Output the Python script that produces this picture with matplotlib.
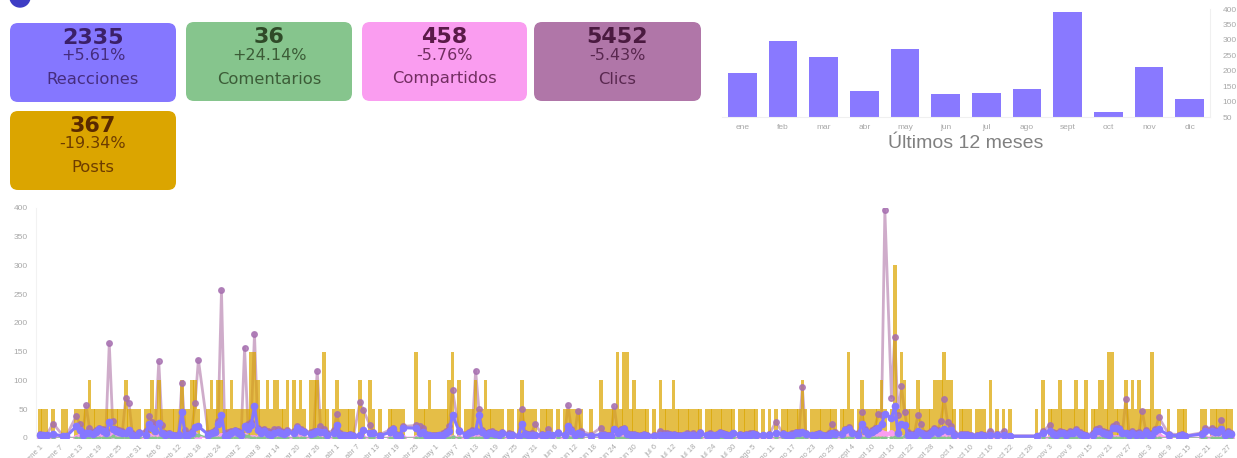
import numpy as np
import matplotlib
matplotlib.use('Agg')
import matplotlib.pyplot as plt
from matplotlib.patches import FancyBboxPatch, Circle

W, H = 1237, 458

# tarjetas
card_values = ['2335', '36', '458', '5452', '367']
card_changes = ['+5.61%', '+24.14%', '-5.76%', '-5.43%', '-19.34%']
card_labels = ['Reacciones', 'Comentarios', 'Compartidos', 'Clics', 'Posts']
card_colors = ['#8577ff', '#86c58d', '#fa9df0', '#b076a8', '#dba500']
card_text = ['#3b2068', '#2f4a28', '#5a1a48', '#4a1a40', '#5a2a00']
card_boxes = [(10, 23, 166, 79), (186, 22, 166, 79), (362, 22, 165, 79), (534, 22, 167, 79), (10, 111, 166, 79)]

# ultimos 12 meses
months = ['ene', 'feb', 'mar', 'abr', 'may', 'jun', 'jul', 'ago', 'sept', 'oct', 'nov', 'dic']
month_values = [193, 296, 245, 135, 272, 125, 130, 141, 390, 66, 211, 108]

# posts por dia (cada post = 50 en el eje)
posts = [
    1, 1, 1, 0, 1, 0, 0, 1, 1, 0, 0, 1, 1, 1, 1, 2, 1, 1, 1, 1,
    1, 1, 1, 1, 1, 1, 2, 1, 1, 1, 1, 0, 1, 1, 2, 1, 2, 1, 1, 1,
    1, 1, 1, 2, 1, 1, 2, 2, 1, 0, 0, 1, 2, 1, 2, 2, 1, 1, 2, 1,
    1, 1, 1, 1, 3, 3, 2, 1, 1, 2, 1, 2, 2, 1, 1, 2, 0, 2, 1, 2,
    1, 0, 2, 2, 2, 1, 3, 1, 0, 1, 2, 1, 1, 1, 1, 1, 0, 2, 1, 0,
    2, 1, 0, 1, 0, 0, 1, 1, 1, 1, 1, 0, 0, 0, 3, 1, 1, 1, 2, 1,
    1, 1, 1, 1, 2, 3, 0, 2, 0, 1, 1, 1, 2, 1, 1, 2, 1, 1, 1, 1,
    1, 0, 1, 1, 0, 1, 2, 1, 1, 1, 1, 0, 1, 1, 1, 1, 0, 1, 0, 1,
    1, 1, 1, 1, 1, 0, 0, 1, 0, 0, 2, 1, 1, 1, 1, 3, 1, 3, 3, 1,
    2, 1, 1, 1, 1, 0, 1, 0, 2, 1, 1, 1, 2, 1, 1, 1, 1, 1, 1, 1,
    1, 0, 1, 1, 1, 1, 1, 1, 1, 1, 1, 0, 1, 1, 1, 1, 1, 1, 0, 1,
    0, 1, 0, 1, 0, 1, 1, 1, 1, 1, 1, 2, 1, 0, 1, 1, 1, 1, 1, 1,
    1, 1, 0, 1, 1, 3, 1, 0, 1, 2, 1, 1, 1, 1, 1, 2, 1, 0, 1, 6,
    1, 3, 2, 1, 1, 1, 2, 1, 1, 1, 1, 2, 2, 2, 3, 2, 2, 1, 0, 1,
    1, 1, 1, 0, 1, 1, 1, 0, 2, 0, 1, 0, 1, 0, 1, 0, 0, 0, 0, 0,
    0, 0, 1, 0, 2, 0, 1, 1, 1, 2, 1, 1, 1, 1, 2, 1, 1, 2, 0, 1,
    1, 2, 2, 1, 3, 3, 1, 1, 1, 2, 1, 2, 1, 2, 1, 1, 1, 3, 1, 1,
    0, 0, 1, 0, 0, 1, 1, 1, 0, 0, 0, 0, 1, 1, 0, 1, 1, 1, 1, 1,
    1, 1, 0, 0, 0,
]

reacciones = [
    6, 5, 5, 6, 7, 5, 4, 3, 3, 6, 8, 20, 14, 6, 8, 9, 7, 11, 15, 13,
    9, 28, 16, 12, 10, 8, 9, 14, 5, 4, 8, 12, 6, 25, 18, 13, 26, 9, 5, 7,
    5, 4, 5, 45, 6, 5, 9, 19, 20, 14, 5, 6, 8, 10, 25, 40, 4, 6, 9, 13,
    9, 6, 20, 16, 22, 55, 14, 9, 12, 7, 6, 9, 11, 8, 7, 10, 6, 9, 18, 13,
    10, 6, 7, 9, 12, 11, 10, 6, 4, 8, 22, 5, 5, 4, 5, 4, 3, 5, 14, 6,
    9, 8, 3, 4, 3, 3, 10, 15, 5, 4, 18, 5, 4, 4, 17, 8, 10, 6, 5, 4,
    4, 5, 6, 8, 12, 40, 5, 12, 6, 6, 8, 10, 12, 40, 10, 6, 8, 9, 7, 6,
    8, 4, 6, 5, 3, 4, 25, 7, 5, 6, 6, 3, 5, 4, 7, 5, 3, 8, 3, 5,
    20, 12, 5, 8, 7, 3, 3, 4, 3, 3, 6, 5, 4, 4, 15, 8, 12, 15, 7, 5,
    5, 4, 4, 5, 4, 3, 4, 3, 6, 5, 6, 5, 5, 4, 4, 5, 6, 5, 6, 4,
    8, 3, 5, 6, 5, 6, 8, 7, 6, 5, 8, 4, 6, 4, 5, 6, 7, 5, 3, 5,
    3, 5, 3, 9, 3, 7, 5, 5, 6, 9, 8, 10, 7, 4, 5, 5, 7, 5, 4, 6,
    8, 7, 3, 7, 14, 15, 9, 4, 5, 25, 12, 7, 10, 14, 18, 24, 42, 3, 35, 55,
    8, 25, 22, 6, 5, 6, 12, 8, 5, 6, 8, 14, 9, 12, 15, 13, 14, 6, 3, 5,
    5, 5, 3, 3, 4, 5, 4, 3, 6, 3, 5, 3, 5, 3, 3, 2, 2, 1, 1, 1,
    1, 1, 3, 3, 9, 3, 12, 7, 6, 8, 8, 6, 9, 8, 12, 7, 5, 3, 5, 6,
    12, 13, 9, 7, 6, 17, 18, 16, 8, 8, 6, 8, 5, 7, 6, 10, 5, 6, 12, 15,
    5, 3, 5, 3, 3, 4, 5, 3, 3, 3, 3, 3, 7, 12, 4, 13, 11, 10, 15, 6,
    9, 7, 3, 3, 3,
]

clics = [
    7, 6, 6, 8, 25, 8, 5, 4, 4, 12, 14, 38, 25, 10, 57, 17, 10, 14, 18, 16,
    14, 165, 30, 16, 14, 12, 70, 60, 8, 6, 10, 16, 12, 38, 28, 24, 133, 22, 8, 9,
    6, 5, 7, 95, 14, 7, 13, 60, 136, 20, 6, 8, 10, 14, 30, 257, 8, 10, 12, 14,
    12, 9, 157, 24, 28, 181, 18, 14, 16, 12, 10, 16, 15, 13, 10, 14, 9, 12, 20, 16,
    13, 8, 10, 12, 117, 20, 15, 8, 5, 14, 42, 8, 6, 5, 7, 5, 4, 62, 48, 8,
    22, 10, 4, 6, 4, 4, 14, 18, 7, 6, 20, 6, 5, 5, 22, 20, 18, 7, 6, 5,
    5, 6, 8, 12, 20, 83, 6, 14, 8, 7, 10, 14, 117, 50, 14, 8, 10, 12, 8, 7,
    10, 5, 8, 7, 4, 5, 50, 9, 7, 8, 25, 4, 7, 5, 15, 6, 4, 10, 4, 6,
    58, 15, 7, 47, 12, 4, 4, 6, 4, 4, 18, 7, 6, 6, 55, 12, 15, 18, 9, 7,
    7, 5, 5, 7, 5, 3, 5, 4, 12, 9, 8, 7, 7, 5, 5, 6, 8, 6, 8, 5,
    10, 4, 6, 8, 6, 7, 10, 8, 7, 6, 9, 5, 7, 5, 7, 8, 9, 7, 4, 6,
    4, 7, 4, 28, 5, 9, 6, 6, 8, 11, 10, 88, 9, 5, 6, 7, 9, 6, 5, 8,
    25, 10, 5, 9, 16, 19, 11, 5, 9, 45, 15, 9, 14, 18, 42, 40, 396, 4, 70, 176,
    40, 90, 45, 10, 7, 8, 40, 25, 8, 9, 12, 18, 14, 30, 68, 28, 20, 8, 4, 7,
    7, 7, 5, 4, 6, 7, 6, 4, 12, 4, 7, 4, 12, 4, 4, 3, 3, 2, 2, 2,
    2, 2, 4, 5, 12, 4, 23, 10, 9, 12, 11, 8, 13, 10, 16, 10, 7, 5, 7, 9,
    15, 17, 12, 10, 9, 20, 24, 18, 10, 67, 9, 12, 8, 10, 47, 14, 7, 9, 15, 36,
    6, 4, 7, 4, 4, 6, 7, 4, 4, 4, 4, 4, 9, 17, 5, 17, 14, 12, 32, 8,
    12, 9, 4, 4, 4,
]

# dias con compartidos / comentarios, el resto es 0
compartidos_dias = [4, 12, 16, 17, 18, 19, 20, 22, 23, 33, 36, 47, 55, 62, 78, 84, 132, 146, 160, 174, 240, 244, 245, 254, 255, 256, 258, 274, 329, 339]
compartidos_vals = [3, 4, 6, 7, 8, 7, 6, 8, 6, 4, 5, 5, 4, 4, 4, 5, 4, 4, 3, 3, 6, 8, 8, 8, 8, 7, 8, 6, 4, 4]
comentarios_dias = [22, 47, 48, 62, 63, 84, 125, 160, 259, 262]
comentarios_vals = [3, 5, 6, 3, 4, 2, 2, 2, 2, 3]

# etiquetas del eje x, una cada 6 dias
day_labels = [
    'ene 1', 'ene 7', 'ene 13', 'ene 19', 'ene 25', 'ene 31', 'feb 6', 'feb 12', 'feb 18', 'feb 24',
    'mar 2', 'mar 8', 'mar 14', 'mar 20', 'mar 26', 'abr 1', 'abr 7', 'abr 13', 'abr 19', 'abr 25',
    'may 1', 'may 7', 'may 13', 'may 19', 'may 25', 'may 31', 'jun 6', 'jun 12', 'jun 18', 'jun 24',
    'jun 30', 'jul 6', 'jul 12', 'jul 18', 'jul 24', 'jul 30', 'ago 5', 'ago 11', 'ago 17', 'ago 23',
    'ago 29', 'sept 4', 'sept 10', 'sept 16', 'sept 22', 'sept 28', 'oct 4', 'oct 10', 'oct 16', 'oct 22',
    'oct 28', 'nov 3', 'nov 9', 'nov 15', 'nov 21', 'nov 27', 'dic 3', 'dic 9', 'dic 15', 'dic 21', 'dic 27',
]


def px_axes(fig, left, top, right, bottom):
    return fig.add_axes([left / W, 1 - bottom / H, (right - left) / W, (bottom - top) / H])


plt.rcParams['font.family'] = ['Liberation Sans', 'DejaVu Sans']
fig = plt.figure(figsize=(W / 100, H / 100), dpi=100)

# capa de tarjetas, en pixeles
bg = px_axes(fig, 0, 0, W, H)
bg.set_xlim(0, W)
bg.set_ylim(H, 0)
bg.axis('off')
bg.add_patch(Circle((20, -3), 10, color='#3d3cc4', clip_on=True))
for i in range(5):
    x, y, w, h = card_boxes[i]
    bg.add_patch(FancyBboxPatch((x + 8, y + 8), w - 16, h - 16, boxstyle='round,pad=8,rounding_size=8',
                                facecolor=card_colors[i], edgecolor='none'))
    cx = x + w / 2
    bg.text(cx, y + 15, card_values[i], ha='center', va='center', fontsize=16, fontweight='bold',
            family='DejaVu Sans', color=card_text[i])
    bg.text(cx, y + 33, card_changes[i], ha='center', va='center', fontsize=11.5,
            family='DejaVu Sans', color=card_text[i], alpha=0.85)
    bg.text(cx, y + 57, card_labels[i], ha='center', va='center', fontsize=11.8,
            family='DejaVu Sans', color=card_text[i], alpha=0.85)

# barras de los 12 meses
ax1 = px_axes(fig, 722, 9, 1210, 117.3)
ax1.bar(months, month_values, width=0.71, color='#8979ff')
ax1.set_xlim(-0.5, 11.5)
ax1.set_ylim(50, 400)
ax1.set_yticks(range(50, 401, 50))
ax1.yaxis.tick_right()
ax1.tick_params(axis='both', length=0, labelsize=6, labelcolor='#a8a8a8', pad=5)
ax1.tick_params(axis='y', pad=9)
for s in ['top', 'left']:
    ax1.spines[s].set_visible(False)
ax1.spines['bottom'].set_color('#f0f0f0')
ax1.spines['right'].set_color('#f0f0f0')
bg.text(966, 143, 'Últimos 12 meses', ha='center', va='center', fontsize=14, color='#808080')

# grafica diaria
posts = np.array(posts)
days = np.arange(len(posts))
con_post = posts > 0

compartidos = np.zeros(len(posts))
compartidos[compartidos_dias] = compartidos_vals
comentarios = np.zeros(len(posts))
comentarios[comentarios_dias] = comentarios_vals

ax2 = px_axes(fig, 36, 207.7, W, 438)
ax2.patch.set_alpha(0)
ax2.plot(days[con_post], np.array(clics)[con_post], color='#b076a8', alpha=0.6, lw=2, zorder=2)
ax2.bar(days, posts * 50, width=1.08, color='#dba500', alpha=0.72, zorder=3)
ax2.plot(days[con_post], np.array(clics)[con_post], color='#a66fb0', lw=0, marker='o', ms=4, alpha=0.8, zorder=4)
ax2.plot(days[con_post], compartidos[con_post], color='#fa9df0', lw=2, marker='o', ms=4, zorder=5)
ax2.plot(days[con_post], comentarios[con_post], color='#86c58d', lw=1, marker='o', ms=2, zorder=5)
ax2.plot(days[con_post], np.array(reacciones)[con_post], color='#8577ff', lw=2.2, marker='o', ms=4.5, zorder=6)
ax2.set_xlim(-1.2, 362.7)
ax2.set_ylim(0, 400)
ax2.set_yticks(range(0, 401, 50))
ax2.set_xticks(days[::6])
ax2.set_xticklabels(day_labels, rotation=45, ha='right', rotation_mode='anchor')
ax2.tick_params(axis='both', length=0, labelsize=5.5, labelcolor='#a8a8a8')
ax2.tick_params(axis='y', pad=6, labelsize=6)
ax2.tick_params(axis='x', pad=4)
for s in ['top', 'right', 'bottom']:
    ax2.spines[s].set_visible(False)
ax2.spines['left'].set_color('#f2f2f2')

fig.savefig('out.png', dpi=100)
